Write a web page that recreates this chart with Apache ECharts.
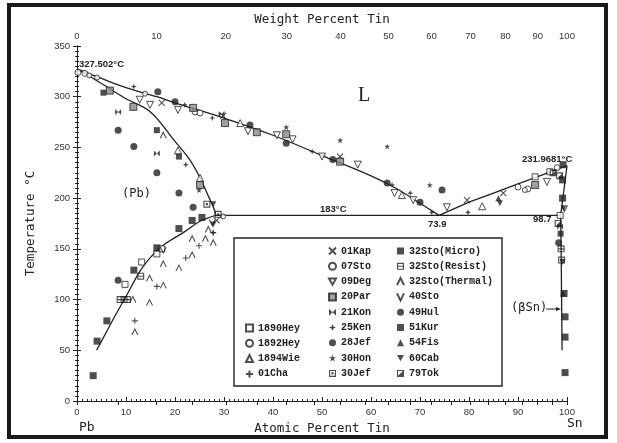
<!DOCTYPE html>
<html><head><meta charset="utf-8">
<script src="https://cdn.jsdelivr.net/npm/echarts@6/dist/echarts.min.js"></script>
<style>html,body{margin:0;padding:0;background:#fff}#c{width:617px;height:443px}</style>
</head><body><div id="c"></div>
<script>
// ---- axis tick data ----
const bottomTicks = [0,10,20,30,40,50,60,70,80,90,100];
const tempTicks = [0,50,100,150,200,250,300,350];
const weightLabels = ['0','10','20','30','40','50','60','70','80','90','100'];
const weightAtAtomic = [0,16.24,30.38,42.79,53.78,63.58,72.36,80.29,87.47,94.02,100];
const weightHalfAtAtomic = [8.41,23.55,36.78,48.45,58.82,68.09,76.42,83.96,90.82,97.07];

// ---- phase boundary curves [atomic % Sn, °C] ----
const liquidusPb = [[0,327.5],[5,318],[10,309],[16.3,300],[20,294],[30,279],[40,262],[50,242],[60,222],[65,210],[70,195],[73.9,183]];
const liquidusSn = [[73.9,183],[80,196],[85,205],[90,214],[95,223],[100,231.97]];
const solidusPb = [[0,327.5],[5,313],[10,298],[15,285],[20,256],[23,238],[25,221],[27,200],[28,189],[28.3,183]];
const solvusPb = [[28.3,183],[25,177],[22,167],[18,155],[16,147],[13,129],[10,103],[8,86],[6,68],[4,50]];
const solidusSn = [[100,231.97],[98.7,183]];
const solvusSn = [[98.7,183],[98.8,150],[98.9,100],[99.0,50]];
const eutectic = [[28.3,183],[98.7,183]];

// ---- experimental data points ----
const hey1890 = [[9.8,115],[13.2,137],[16.3,145],[17.3,150],[93.5,221],[96.5,226],[98.6,183]];
const hey1892 = [[0.2,324],[1.6,323],[24.1,285],[25.1,284],[90,211],[92,209],[98,230]];
const wie1894 = [[20.6,247],[33.3,274],[66.3,203],[82.7,192],[25.1,220]];
const cha01 = [[11.8,79],[16.3,113],[22.2,141],[24.9,153],[27.8,166]];
const kap01 = [[17.3,294],[29.8,281],[53.7,241],[79.6,198],[87,205],[28.5,178]];
const sto07 = [[4.1,319],[13.9,303],[91.4,208],[29.8,182],[2.5,321]];
const deg09 = [[12.8,297],[14.9,292],[20.6,287],[34.9,266],[40.8,262],[44,258],[50,241],[57.3,233],[64.8,205],[68.6,198],[75.5,191],[95.9,216]];
const par20 = [[6.7,306],[11.5,290],[23.7,289],[30.2,274],[36.7,265],[42.7,263],[53.7,236],[93.5,213],[25.1,213]];
const kon21 = [[8.4,285],[16.3,244],[29.5,283],[98.6,172]];
const ken25 = [[11.6,310],[22,292],[27.6,279],[48,246],[64.3,213],[68,205],[72.4,186],[79.8,186],[22.2,233],[27.8,166]];
const jef28 = [[8.4,267],[11.6,251],[16.3,225],[20.8,205],[23.7,191]];
const hon30 = [[42.7,270],[53.7,257],[63.3,251],[72,213],[24.9,208]];
const jef30 = [[28.8,184],[98.9,139],[26.5,194]];
const micro32 = [[16.3,267],[20.8,241],[5.4,304],[98.7,165]];
const resist32 = [[8.8,100],[9.6,100],[10.3,100],[13,123],[98.8,150]];
const thermal32 = [[17.6,262],[11.4,100],[11.8,68],[14.8,121],[14.8,97],[17.6,135],[17.6,114],[20.8,131],[23.5,160],[23.5,144],[26.2,160],[27.8,156],[26.8,169]];
const sto40 = [[17.6,149],[27.6,176],[99.5,190]];
const hul49 = [[8.4,119],[16.5,305],[20,295],[35.3,272],[42.7,254],[52.2,238],[63.3,215],[70,196],[98.3,156],[74.5,208]];
const kur51 = [[3.3,25],[4.1,59],[6.1,79],[11.6,129],[16.3,151],[20.8,170],[23.5,178],[25.5,181],[99.2,233],[99.4,106],[99.6,83],[99.6,63],[99.6,28],[99.1,218],[99.1,200]];
const fis54 = [[99.2,106],[86,200]];
const cab60 = [[27.8,194],[27.8,174],[99.1,137],[86.3,195],[99.3,190]];
const tok79 = [[98.5,222],[97.2,225],[98.2,175]];

const INK = '#222';
const OPEN = {color:'#fff', borderColor:INK, borderWidth:1};
const FILL = {color:INK, borderWidth:0};
const STROKE = {color:'rgba(0,0,0,0)', borderColor:INK, borderWidth:1.1};
const GRAY = {color:'#8a8a8a', borderColor:INK, borderWidth:1};

const P = {
  plus:'path://M5,0L5,10M0,5L10,5',
  cross:'path://M0,0L10,10M10,0L0,10',
  down:'path://M0,0L10,0L5,9Z',
  bow:'path://M0,0L10,10L10,0L0,10Z',
  star4:'path://M5,0L6.4,3.6L10,5L6.4,6.4L5,10L3.6,6.4L0,5L3.6,3.6Z',
  star5:'path://M5,0L6.2,3.7L10,3.8L7,6.1L8.1,10L5,7.7L1.9,10L3,6.1L0,3.8L3.8,3.7Z',
  boxDot:'path://M0,0H10V10H0Z M1.6,1.6V8.4H8.4V1.6Z M3.4,3.4H6.6V6.6H3.4Z',
  boxBar:'path://M0,0H10V10H0Z M1.6,1.6V4.2H8.4V1.6Z M1.6,5.8V8.4H8.4V5.8Z',
  up:'path://M0,10L5,0L10,10',
  vee:'path://M0,0L5,10L10,0',
  half:'path://M0,0H10V10H0Z M1.6,1.6V8.4L8.4,1.6Z'
};

const pointDefs = [
  ['1890Hey', hey1890, 'rect', 6, OPEN],
  ['1892Hey', hey1892, 'circle', 6, OPEN],
  ['1894Wie', wie1894, 'triangle', 7, OPEN],
  ['01Cha', cha01, P.plus, 6, STROKE],
  ['01Kap', kap01, P.cross, 6, STROKE],
  ['07Sto', sto07, 'circle', 5, OPEN],
  ['09Deg', deg09, P.down, 7, OPEN],
  ['20Par', par20, 'rect', 7, GRAY],
  ['21Kon', kon21, P.bow, 6, FILL],
  ['25Ken', ken25, P.star4, 6, FILL],
  ['28Jef', jef28, 'circle', 7, FILL],
  ['30Hon', hon30, P.star5, 6, FILL],
  ['30Jef', jef30, P.boxDot, 7, FILL],
  ['32Sto(Micro)', micro32, 'rect', 6, FILL],
  ['32Sto(Resist)', resist32, P.boxBar, 7, FILL],
  ['32Sto(Thermal)', thermal32, P.up, 6, STROKE],
  ['40Sto', sto40, P.vee, 6, STROKE],
  ['49Hul', hul49, 'circle', 7, FILL],
  ['51Kur', kur51, 'rect', 7, FILL],
  ['54Fis', fis54, 'triangle', 6, FILL],
  ['60Cab', cab60, P.down, 6, FILL],
  ['79Tok', tok79, P.half, 7, FILL]
];

const curveDefs = [
  [liquidusPb, true], [liquidusSn, false], [solidusPb, true], [solvusPb, true],
  [solidusSn, false], [solvusSn, false], [eutectic, false]
];

const series = [];
curveDefs.forEach(([d, sm]) => series.push({
  type:'line', data:d, symbol:'none', smooth: sm ? 0.35 : false, silent:true,
  lineStyle:{color:INK, width:1.3}, z:2
}));
pointDefs.forEach(([name, d, sym, size, st]) => series.push({
  name, type:'scatter', data:d, symbol:sym, symbolSize:size, itemStyle:st, z:3
}));

const tickFont = {fontFamily:'Liberation Sans, Arial, sans-serif', fontSize:9.5, color:'#333'};
const nameFont = {fontFamily:'DejaVu Sans Mono, monospace', fontSize:12.5, color:INK};
const legFont = {fontFamily:'Liberation Mono, Courier New, monospace', fontSize:10, fontWeight:'bold', color:INK, lineHeight:10};

function legend(names, left, top) {
  return {
    data:names, orient:'vertical', left, top, itemWidth:7, itemHeight:7, itemGap:5.3,
    textStyle:legFont, selectedMode:false, padding:0, itemStyle:{}
  };
}

const chart = echarts.init(document.getElementById('c'), null, {renderer:'canvas'});
chart.setOption({
  animation:false,
  backgroundColor:'#fff',
  grid:{left:77, top:46, width:490, height:355},
  xAxis:[
    {type:'value', min:0, max:100, interval:10, position:'bottom',
     name:'Atomic Percent Tin', nameLocation:'middle', nameGap:19, nameTextStyle:nameFont,
     axisLine:{lineStyle:{color:INK, width:1}},
     axisTick:{inside:true, length:4, lineStyle:{color:INK}},
     minorTick:{show:true, splitNumber:10, length:2, lineStyle:{color:INK}},
     axisLabel:{...tickFont, margin:6}, splitLine:{show:false}},
    {type:'value', min:0, max:100, position:'top',
     name:'Weight Percent Tin', nameLocation:'middle', nameGap:19, nameTextStyle:nameFont,
     axisLine:{lineStyle:{color:INK, width:1}},
     axisTick:{inside:true, length:4, lineStyle:{color:INK}, customValues: weightAtAtomic.concat(weightHalfAtAtomic)},
     axisLabel:{...tickFont, margin:5, customValues: weightAtAtomic,
       formatter:(v)=>{const i = weightAtAtomic.findIndex(a=>Math.abs(a-v)<0.01); return i>=0?weightLabels[i]:'';}},
     splitLine:{show:false}}
  ],
  yAxis:[
    {type:'value', min:0, max:350, interval:50, position:'left',
     name:'Temperature °C', nameLocation:'middle', nameGap:40, nameRotate:90, nameTextStyle:nameFont,
     axisLine:{show:true, lineStyle:{color:INK, width:1}},
     axisTick:{show:true, inside:true, length:4, lineStyle:{color:INK}},
     minorTick:{show:true, splitNumber:10, length:2, lineStyle:{color:INK}},
     axisLabel:{...tickFont, margin:7}, splitLine:{show:false}},
    {type:'value', min:0, max:350, interval:50, position:'right',
     axisLine:{show:true, lineStyle:{color:INK, width:1}},
     axisTick:{show:true, inside:true, length:4, lineStyle:{color:INK}},
     minorTick:{show:true, splitNumber:10, length:2, lineStyle:{color:INK}},
     axisLabel:{show:false}, splitLine:{show:false}}
  ],
  legend:[
    legend(['1890Hey','1892Hey','1894Wie','01Cha'], 245, 323),
    legend(['01Kap','07Sto','09Deg','20Par','21Kon','25Ken','28Jef','30Hon','30Jef'], 328, 246),
    legend(['32Sto(Micro)','32Sto(Resist)','32Sto(Thermal)','40Sto','49Hul','51Kur','54Fis','60Cab','79Tok'], 396, 246)
  ],
  graphic:[
    {type:'rect', shape:{x:9, y:5, width:597, height:432}, style:{fill:'none', stroke:'#1a1a1a', lineWidth:4}, silent:true},
    {type:'rect', shape:{x:234, y:238, width:268, height:148}, style:{fill:'#fff', stroke:INK, lineWidth:1.4}, z:1, silent:true},
    {type:'text', left:79, top:59, style:{text:'327.502°C', font:'bold 9.5px Liberation Sans, Arial', fill:INK}},
    {type:'text', left:358, top:86, style:{text:'L', font:'20px Liberation Serif, Times New Roman, serif', fill:INK}},
    {type:'text', left:522, top:154, style:{text:'231.9681°C', font:'bold 9.5px Liberation Sans, Arial', fill:INK}},
    {type:'text', left:122, top:188, style:{text:'(Pb)', font:'12px DejaVu Sans Mono, monospace', fill:INK}},
    {type:'text', left:320, top:204, style:{text:'183°C', font:'bold 9.5px Liberation Sans, Arial', fill:INK}},
    {type:'text', left:428, top:219, style:{text:'73.9', font:'bold 9.5px Liberation Sans, Arial', fill:INK}},
    {type:'text', left:533, top:214, style:{text:'98.7', font:'bold 9.5px Liberation Sans, Arial', fill:INK}},
    {type:'text', left:511, top:302, style:{text:'(βSn)', font:'12px DejaVu Sans Mono, monospace', fill:INK}},
    {type:'line', shape:{x1:546, y1:309, x2:559, y2:309}, style:{stroke:INK, lineWidth:1}},
    {type:'polygon', shape:{points:[[561,309],[556,307],[556,311]]}, style:{fill:INK}},
    {type:'text', left:79, top:421, style:{text:'Pb', font:'13px DejaVu Sans Mono, monospace', fill:INK}},
    {type:'text', left:567, top:417, style:{text:'Sn', font:'13px DejaVu Sans Mono, monospace', fill:INK}}
  ],
  series
});
</script></body></html>
